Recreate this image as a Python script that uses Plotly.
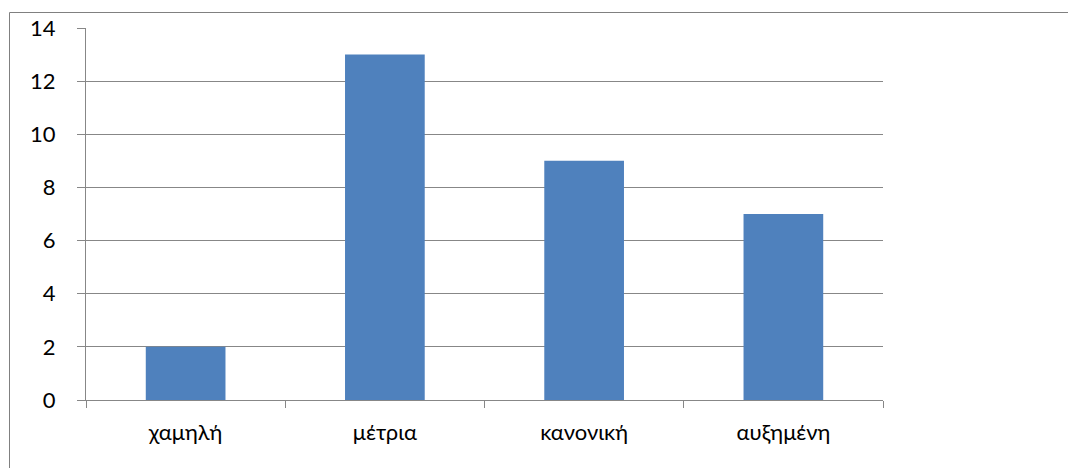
import plotly.graph_objects as go

categories = ["χαμηλή", "μέτρια", "κανονική", "αυξημένη"]
values = [2, 13, 9, 7]
y_ticks = [0, 2, 4, 6, 8, 10, 12, 14]

grid = "#878787"
font = "Lato, 'Open Sans', sans-serif"

fig = go.Figure(go.Bar(x=categories, y=values, marker=dict(color="#4F81BD", line=dict(width=0))))

# plot area spans x 86..883 and y 28..400 in a 1068x468 page
L, R, T, B = 86, 1068 - 883, 28, 468 - 400
pw, ph = 1068 - L - R, 468 - T - B

def px(x):
    return (x - L) / pw

def py(y):
    return (468 - B - y) / ph

fig.update_layout(
    width=1068, height=468,
    margin=dict(l=L, r=R, t=T, b=B),
    paper_bgcolor="white", plot_bgcolor="white",
    bargap=0.6, showlegend=False,
    font=dict(family=font, size=22, color="#000000"),
    xaxis=dict(
        showgrid=False, showline=True, linecolor=grid, linewidth=1,
        ticks="outside", ticklen=7, tickcolor=grid, tickson="boundaries",
        ticklabelstandoff=13, fixedrange=True,
    ),
    yaxis=dict(
        range=[0, 14], tickvals=y_ticks, showgrid=True, gridcolor=grid, gridwidth=1,
        showline=True, linecolor=grid, linewidth=1, zeroline=False,
        ticks="outside", ticklen=8, tickcolor=grid, ticklabelstandoff=17,
        fixedrange=True,
    ),
    shapes=[
        dict(type="line", xref="paper", yref="paper", x0=px(9.5), x1=px(9.5), y0=py(12.5), y1=py(480),
             line=dict(color="#808080", width=1)),
        dict(type="line", xref="paper", yref="paper", x0=px(9.5), x1=px(1080), y0=py(12.5), y1=py(12.5),
             line=dict(color="#808080", width=1)),
    ],
)

fig.write_html("out.html")
